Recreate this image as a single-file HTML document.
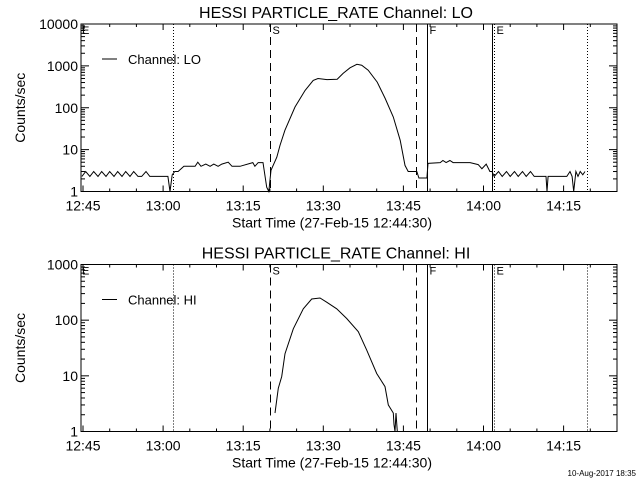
<!DOCTYPE html>
<html><head><meta charset="utf-8"><style>
html,body{margin:0;padding:0;background:#fff;}
svg{display:block;font-family:"Liberation Sans",sans-serif;}
</style></head><body>
<svg id="c" width="640" height="480" viewBox="0 0 640 480" xmlns="http://www.w3.org/2000/svg"></svg>
<script>
// time in minutes since 12:45
const xTickLabels=["12:45","13:00","13:15","13:30","13:45","14:00","14:15"];
const xTickMinutes=[0,15,30,45,60,75,90];
const loTimes=[
-0.2,0.5,1.3,2.0,2.8,3.5,4.3,5.0,5.8,6.5,7.3,8.0,8.8,9.5,10.3,11.0,11.8,12.5,13.0,
15.9,16.3,16.7,17.2,17.8,18.9,21.0,21.5,22.1,23.0,23.8,24.5,25.3,26.0,27.2,27.9,29.4,31.8,32.2,32.8,33.7,
34.4,34.8,35.2,36.3,36.9,37.8,39.7,41.6,43.1,44.0,45.7,47.6,48.7,50.0,51.3,52.2,53.4,55.1,56.6,58.1,59.4,60.3,60.9,
62.5,62.9,64.4,64.6,66.9,67.4,68.0,68.7,69.3,72.5,74.0,74.7,75.5,76.2,76.6,
77.0,77.8,78.5,79.3,80.0,80.8,81.5,82.3,83.0,83.8,84.5,85.3,86.7,86.9,87.1,90.6,91.2,91.6,91.9,92.3,92.7,93.1,93.6,94.0];
const loValues=[
2.3,3,2.3,3,2.3,3,2.3,3,2.3,3,2.3,3,2.3,3,2.3,2.3,3,2.3,2.3,
2.3,1,2.5,3,3,4,4,5,4,4.5,4,4.5,4,4.5,5,4,4,4.9,4,4.9,4.9,
1.27,1,3.2,6.6,12.6,29,104,260,450,500,470,480,660,900,1090,1040,790,410,166,60,16.7,4.2,3,
3,2.1,2.1,4.7,4.9,5.5,4.9,5.5,4.9,4.9,4.4,3.5,4.5,3,3,
2.3,3,2.3,3,2.3,3,2.3,3,2.3,3,2.3,2.3,2.3,1,2.3,2.3,3,2.3,1,3,2.3,3,2.5,3];
const hiTimes=[35.96,36.57,37.21,37.83,39.38,41.25,42.83,44.38,45.64,47.51,49.38,51.55,53.13,55.0,56.55,57.17,58.11,58.24,58.43,58.61,58.86];
const hiValues=[2.15,6,9.7,25,70,160,240,250,210,160,107,62,29,11,6.4,3.0,2.15,1.33,1,2.15,1];
const vLines=[
 {t:16.8,style:"dot"},{t:35.0,style:"dash",lab:"S"},{t:62.4,style:"dash"},
 {t:64.4,style:"solid",lab:"F"},{t:76.6,style:"solid"},{t:77.0,style:"dot",lab:"E"},{t:94.4,style:"dot"}];
const NS="http://www.w3.org/2000/svg";
const svg=document.getElementById('c');
function el(tag,attrs,parent){const e=document.createElementNS(NS,tag);for(const k in attrs)e.setAttribute(k,attrs[k]);(parent||svg).appendChild(e);return e;}
const X0=81,X1=617;
function xs(t){return 83+t*5.34;}
function panel(cfg){
 const g=el('g',{});
 
 
 const top=cfg.top,bot=cfg.bot,dec=cfg.decades;
 const ys=v=>bot-(Math.log10(v))*(bot-top)/dec;
 const t=el('text',{x:336,y:top-6,'text-anchor':'middle','font-size':16},g);t.textContent=cfg.title;
 
 el('rect',{x:X0,y:top,width:X1-X0,height:bot-top,fill:'none',stroke:'#000','stroke-width':1},g);
 for(let d=0;d<=dec;d++){
  const y=ys(Math.pow(10,d));
  el('line',{x1:X0,y1:y,x2:X0+8,y2:y,stroke:'#000'},g);el('line',{x1:X1,y1:y,x2:X1-8,y2:y,stroke:'#000'},g);
  const l=el('text',{x:X0-3,y:y+5,'text-anchor':'end','font-size':14},g);l.textContent=String(Math.pow(10,d));
  
  if(d<dec)for(let m=2;m<10;m++){const yy=ys(m*Math.pow(10,d));el('line',{x1:X0,y1:yy,x2:X0+4,y2:yy,stroke:'#000'},g);el('line',{x1:X1,y1:yy,x2:X1-4,y2:yy,stroke:'#000'},g);}
 }
 const yt=el('text',{transform:`translate(25,${(top+bot)/2}) rotate(-90)`,'text-anchor':'middle','font-size':14},g);yt.textContent='Counts/sec';
 
 for(let m=0;m<=100;m+=5){const x=xs(m);if(x<X0||x>X1)continue;const len=(m%15===0)?6:3;
  el('line',{x1:x,y1:bot,x2:x,y2:bot-len,stroke:'#000'},g);el('line',{x1:x,y1:top,x2:x,y2:top+len,stroke:'#000'},g);}
 xTickMinutes.forEach((m,i)=>{const l=el('text',{x:xs(m),y:bot+19,'text-anchor':'middle','font-size':14},g);l.textContent=xTickLabels[i];
  });
 const xt=el('text',{x:332,y:bot+36,'text-anchor':'middle','font-size':14},g);xt.textContent='Start Time (27-Feb-15 12:44:30)';
 
 const le=el('text',{x:X0+1,y:top+10,'font-size':11},g);le.textContent='E';
 vLines.forEach(v=>{const x=Math.round(xs(v.t))+0.5;const a={x1:x,y1:top,x2:x,y2:bot,stroke:'#000','stroke-width':1};
  if(v.style==='dot')a['stroke-dasharray']='1,2';if(v.style==='dash')a['stroke-dasharray']='8,5';
  const ln=el('line',a,g);
  if(v.lab){const l=el('text',{x:x+2,y:top+10,'font-size':11},g);l.textContent=v.lab;}});
 let d='';cfg.times.forEach((tm,i)=>{d+=(i?'L':'M')+xs(tm).toFixed(1)+','+ys(cfg.values[i]).toFixed(1);});
 const p=el('path',{d:d,fill:'none',stroke:'#000','stroke-width':1},g);
 
 const lg=el('g',{},g);
 el('line',{x1:102,y1:top+35,x2:117,y2:top+35,stroke:'#000'},lg);
 const lt=el('text',{x:128,y:top+40,'font-size':13},lg);lt.textContent=cfg.legend;
}
panel({name:'lo-panel',title:'HESSI PARTICLE_RATE Channel: LO',top:24,bot:191.5,decades:4,times:loTimes,values:loValues,legend:'Channel: LO'});
panel({name:'hi-panel',title:'HESSI PARTICLE_RATE Channel: HI',top:264.5,bot:431.5,decades:3,times:hiTimes,values:hiValues,legend:'Channel: HI'});
const ts=el('text',{x:636,y:476,'text-anchor':'end','font-size':8});ts.textContent='10-Aug-2017 18:35';

</script>
</body></html>
